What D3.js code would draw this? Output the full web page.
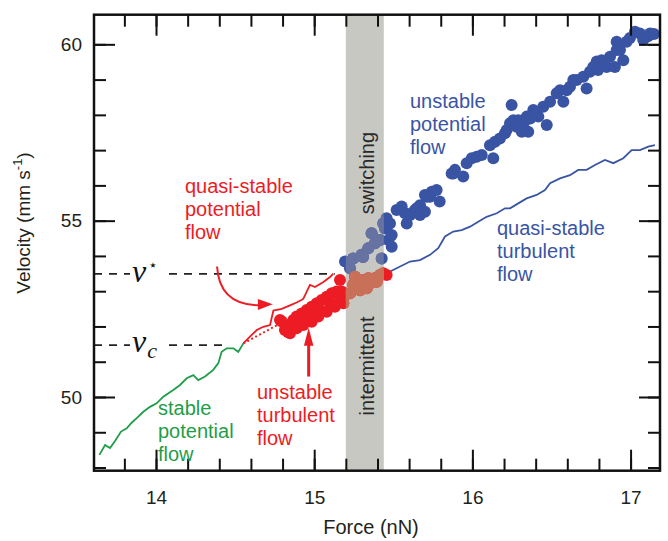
<!DOCTYPE html>
<meta charset="utf-8">
<title>Velocity vs force</title>
<style type="text/css">
	body { margin: 0; background: #fff; }
	text { font-family: "Liberation Sans", Arial, sans-serif; }
</style>
<body>
<div id="chart"></div>
<script src="https://d3js.org/d3.v7.min.js"></script>
<script>

// tick values
var xMajorTicks = [14, 15, 16, 17];
var xMinorTicks = [13.8, 14, 14.2, 14.4, 14.6, 14.8, 15, 15.2, 15.4, 15.6, 15.8, 16, 16.2, 16.4, 16.6, 16.8, 17];
var yMajorTicks = [50, 55, 60];
var yMinorTicks = [48, 49, 50, 51, 52, 53, 54, 55, 56, 57, 58, 59, 60];

// shaded switching / intermittent band (force, nN)
var bandForce = [15.20, 15.44];

// critical velocities
var vStar = 53.49;
var vC = 51.47;

// stable potential flow (green line)
var stableForce = [13.642,13.678,13.709,13.741,13.779,13.815,13.846,13.878,13.920,13.962,14.004,14.046,14.109,14.152,14.194,14.236,14.267,14.310,14.362,14.394,14.415,14.447,14.489,14.520,14.552];
var stableVel   = [48.36,48.64,48.55,48.75,49.02,49.11,49.27,49.40,49.58,49.72,49.82,50.01,50.20,50.34,50.53,50.62,50.48,50.58,50.77,50.96,51.28,51.38,51.38,51.28,51.52];

// quasi-stable potential flow (red line)
var qsPotForce = [14.552,14.594,14.637,14.678,14.721,14.742,14.795,14.847,14.889,14.931,14.973,15.005,15.058,15.100,15.121];
var qsPotVel   = [51.52,51.71,51.90,51.99,52.04,52.45,52.50,52.60,52.68,52.78,53.18,53.12,53.26,53.40,53.50];

// dotted extension towards the turbulent branch
var dottedForce = [14.552, 14.80];
var dottedVel   = [51.52, 52.12];

// quasi-stable turbulent flow (blue line)
var qsTurbForce = [15.458,15.521,15.606,15.669,15.732,15.784,15.827,15.879,15.932,15.985,16.037,16.090,16.154,16.206,16.238,16.290,16.343,16.406,16.459,16.491,16.554,16.617,16.669,16.722,16.775,16.838,16.891,16.954,17.007,17.059,17.112,17.154];
var qsTurbVel   = [53.51,53.65,53.84,53.88,54.03,54.22,54.55,54.69,54.73,54.83,54.97,55.11,55.21,55.35,55.35,55.49,55.63,55.73,55.87,56.06,56.20,56.29,56.44,56.44,56.58,56.72,56.63,56.77,57.00,57.00,57.10,57.14];

// unstable turbulent flow (red dots)
var redForce = [14.784,14.795,14.815,14.834,14.836,14.847,14.868,14.889,14.889,14.910,14.921,14.931,14.953,14.973,14.984,14.984,15.016,15.026,15.037,15.047,15.079,15.079,15.100,15.111,15.131,15.142,15.163,15.163,15.174,15.184,15.195,
	15.226,15.247,15.258,15.290,15.300,15.310,15.332,15.342,15.353,15.384,15.395,15.405,15.416,15.437,15.458];
var redVel   = [52.18,52.14,51.90,51.84,52.04,51.81,52.18,52.28,51.95,52.18,52.37,52.04,52.47,52.32,52.56,52.13,52.66,52.28,52.47,52.75,52.84,52.42,52.66,52.94,52.56,52.99,53.32,52.80,52.99,52.66,52.89,
	52.94,53.18,53.41,53.03,53.32,53.13,53.08,53.37,53.22,53.37,53.27,53.41,53.46,53.51,53.46];

// unstable potential flow (blue dots)
var blueForce = [15.195,15.226,15.247,15.300,15.309,15.342,15.363,15.384,15.416,15.427,15.437,15.448,15.458,15.470,15.479,15.490,15.490,
	15.521,15.553,15.574,15.585,15.606,15.616,15.637,15.648,15.669,15.669,15.700,15.700,15.711,15.732,15.743,15.774,15.793,
	15.869,15.880,15.890,15.942,15.964,15.996,16.027,16.059,16.132,16.111,16.143,16.174,16.206,16.217,16.238,16.259,16.248,16.280,16.290,16.312,16.326,16.353,16.343,16.366,16.385,16.404,16.417,16.448,16.470,
	16.491,16.533,16.554,16.575,16.596,16.617,16.638,16.659,16.701,16.722,16.743,16.764,16.786,16.794,16.817,16.832,16.849,16.870,16.901,16.912,16.912,16.933,16.954,16.975,16.996,17.028,17.059,17.080,17.110,17.123,17.148];
var blueVel   = [53.84,53.65,53.93,54.03,53.97,54.22,54.64,54.36,54.45,53.93,54.92,54.78,55.07,54.45,54.92,54.59,54.26,
	55.30,55.40,55.21,54.92,55.16,55.21,55.30,55.35,55.44,55.16,55.25,55.73,55.68,55.68,55.82,55.87,55.54,
	56.34,56.34,56.44,56.25,56.63,56.77,56.81,56.86,56.77,57.14,57.24,57.33,57.48,57.57,57.76,57.85,58.28,57.66,57.85,57.52,57.79,57.52,57.95,57.90,58.14,58.08,57.95,58.23,57.71,
	58.37,58.61,58.70,58.37,58.70,58.80,58.99,58.99,59.08,58.75,59.22,59.36,59.51,59.27,59.55,59.44,59.36,59.65,59.36,60.07,59.84,59.84,59.55,60.07,60.18,60.36,60.31,60.12,60.23,60.31,60.29];

var red = "#ed1c24", blue = "#3a54a4", green = "#1f9d48";
var bandFill = "#c8c8c3", redInBand = "#c87058", blueInBand = "#6672a2";

var margin = {top: 14.7, right: 8, bottom: 70.3, left: 94},
	width = 668 - margin.left - margin.right,
	height = 541 - margin.top - margin.bottom;

var x = d3.scaleLinear().domain([13.608, 17.186]).range([0, width]);
var y = d3.scaleLinear().domain([47.91, 60.84]).range([height, 0]);

var svg = d3.select("#chart").append("svg")
	.attr("width", 668)
	.attr("height", 541)
	.append("g")
	.attr("transform", "translate(" + margin.left + "," + margin.top + ")");

function zip(xs, ys) {
	return xs.map(function(d, i) { return {f: d, v: ys[i]}; });
}

// grey band
svg.append("rect")
	.attr("x", x(bandForce[0]))
	.attr("y", 0)
	.attr("width", x(bandForce[1]) - x(bandForce[0]))
	.attr("height", height)
	.style("fill", bandFill);

svg.append("clipPath").attr("id", "bandClip")
	.append("rect")
	.attr("x", x(bandForce[0]))
	.attr("y", 0)
	.attr("width", x(bandForce[1]) - x(bandForce[0]))
	.attr("height", height);

var line = d3.line()
	.x(function(d) { return x(d.f); })
	.y(function(d) { return y(d.v); });

// dashed critical velocity lines
svg.append("line")
	.attr("x1", 0).attr("x2", x(15.13))
	.attr("y1", y(vStar)).attr("y2", y(vStar))
	.style("stroke", "#222").style("stroke-width", 1.6).style("stroke-dasharray", "8,7");
svg.append("line")
	.attr("x1", 0).attr("x2", x(14.44))
	.attr("y1", y(vC)).attr("y2", y(vC))
	.style("stroke", "#222").style("stroke-width", 1.6).style("stroke-dasharray", "8,7");

// white patches behind the math labels
svg.append("rect").attr("x", 36).attr("y", y(vStar) - 16).attr("width", 33).attr("height", 28).style("fill", "#fff");
svg.append("rect").attr("x", 36).attr("y", y(vC) - 12).attr("width", 34).attr("height", 26).style("fill", "#fff");

// lines
svg.append("path").datum(zip(stableForce, stableVel))
	.attr("d", line).style("fill", "none").style("stroke", green).style("stroke-width", 1.8);
svg.append("path").datum(zip(qsPotForce, qsPotVel))
	.attr("d", line).style("fill", "none").style("stroke", red).style("stroke-width", 1.8);
svg.append("path").datum(zip(dottedForce, dottedVel))
	.attr("d", line).style("fill", "none").style("stroke", red).style("stroke-width", 2)
	.style("stroke-dasharray", "2,2.5");
svg.append("path").datum(zip(qsTurbForce, qsTurbVel))
	.attr("d", line).style("fill", "none").style("stroke", blue).style("stroke-width", 1.8);

// dots
var blueData = zip(blueForce, blueVel);
var redData = zip(redForce, redVel);
var r = 6;

function drawDots(g, data, fill) {
	g.selectAll("circle")
		.data(data)
		.enter().append("circle")
		.attr("cx", function(d) { return x(d.f); })
		.attr("cy", function(d) { return y(d.v); })
		.attr("r", r)
		.style("fill", fill);
}

drawDots(svg.append("g"), blueData, blue);
drawDots(svg.append("g"), redData, red);
// the same dots seen through the band
var inBand = svg.append("g").attr("clip-path", "url(#bandClip)");
drawDots(inBand.append("g"), blueData, blueInBand);
drawDots(inBand.append("g"), redData, redInBand);

// axes with inward ticks on all four sides
function styleAxis(g) {
	g.select(".domain").remove();
	g.selectAll(".tick line").style("stroke", "#111").style("stroke-width", 2);
	g.selectAll(".tick text").style("font-size", "19px").style("fill", "#231f20")
		.style("font-family", "'Liberation Sans', Arial, sans-serif");
}

svg.append("g").attr("transform", "translate(0," + height + ")")
	.call(d3.axisBottom(x).tickValues(xMinorTicks).tickSize(-12).tickFormat("")).call(styleAxis);
svg.append("g").attr("transform", "translate(0," + height + ")")
	.call(d3.axisBottom(x).tickValues(xMajorTicks).tickSize(-21).tickPadding(20).tickFormat(d3.format("d"))).call(styleAxis);
svg.append("g")
	.call(d3.axisTop(x).tickValues(xMinorTicks).tickSize(-12).tickFormat("")).call(styleAxis);
svg.append("g")
	.call(d3.axisTop(x).tickValues(xMajorTicks).tickSize(-21).tickFormat("")).call(styleAxis);

svg.append("g")
	.call(d3.axisLeft(y).tickValues(yMinorTicks).tickSize(-12).tickFormat("")).call(styleAxis);
svg.append("g")
	.call(d3.axisLeft(y).tickValues(yMajorTicks).tickSize(-21).tickPadding(12).tickFormat(d3.format("d"))).call(styleAxis);
svg.append("g").attr("transform", "translate(" + width + ",0)")
	.call(d3.axisRight(y).tickValues(yMinorTicks).tickSize(-12).tickFormat("")).call(styleAxis);
svg.append("g").attr("transform", "translate(" + width + ",0)")
	.call(d3.axisRight(y).tickValues(yMajorTicks).tickSize(-21).tickFormat("")).call(styleAxis);

// frame
svg.append("rect")
	.attr("width", width).attr("height", height)
	.style("fill", "none").style("stroke", "#111").style("stroke-width", 2.5);

// axis titles
svg.append("text")
	.attr("x", 371 - margin.left)
	.attr("y", height + 63)
	.style("text-anchor", "middle")
	.style("font-size", "20px").style("fill", "#231f20")
	.text("Force (nN)");

var yTitle = svg.append("text")
	.attr("transform", "translate(" + (-64) + "," + (223 - margin.top) + ") rotate(-90)")
	.style("text-anchor", "middle")
	.style("font-size", "19px").style("fill", "#231f20");
yTitle.append("tspan").text("Velocity (mm s");
yTitle.append("tspan").attr("dy", -8).style("font-size", "13px").text("-1");
yTitle.append("tspan").attr("dy", 8).text(")");

// band labels
svg.append("text")
	.attr("transform", "translate(" + (x(15.32) + 9) + "," + y(56.35) + ") rotate(-90)")
	.style("text-anchor", "middle").style("font-size", "20px").style("fill", "#2a2a2a")
	.text("switching");
svg.append("text")
	.attr("transform", "translate(" + (x(15.32) + 9) + "," + y(50.88) + ") rotate(-90)")
	.style("text-anchor", "middle").style("font-size", "20px").style("fill", "#2a2a2a")
	.text("intermittent");

// multi-line annotation helper
function label(lines, px, py, color) {
	var t = svg.append("text")
		.attr("x", px - margin.left).attr("y", py - margin.top)
		.style("font-size", "20px").style("fill", color);
	lines.forEach(function(s, i) {
		t.append("tspan").attr("x", px - margin.left).attr("dy", i === 0 ? 0 : 23).text(s);
	});
}

label(["quasi-stable", "potential", "flow"], 185, 193, red);
label(["unstable", "turbulent", "flow"], 257, 399, red);
label(["stable", "potential", "flow"], 158, 415, green);
label(["unstable", "potential", "flow"], 410, 108, blue);
label(["quasi-stable", "turbulent", "flow"], 497, 235, blue);

// math labels v* and v_c
var vs = svg.append("text")
	.attr("x", 38).attr("y", y(vStar) + 8)
	.style("font-family", "'Liberation Serif', 'DejaVu Serif', serif")
	.style("font-style", "italic").style("font-size", "32px").style("fill", "#111");
vs.append("tspan").text("v");
vs.append("tspan").attr("dy", -12).attr("dx", 2)
	.style("font-family", "'DejaVu Sans', sans-serif").style("font-style", "normal").style("font-size", "15px").text("\u22C6");

var vc = svg.append("text")
	.attr("x", 38).attr("y", y(vC) + 7)
	.style("font-family", "'Liberation Serif', 'DejaVu Serif', serif")
	.style("font-style", "italic").style("font-size", "32px").style("fill", "#111");
vc.append("tspan").text("v");
vc.append("tspan").attr("dy", 6).attr("dx", 1).style("font-size", "22px").text("c");

// curved arrow to the quasi-stable potential branch
var a0 = [x(14.386), y(53.70)], a1 = [x(14.646), y(52.60)], ac = [x(14.40), y(52.62)];
svg.append("path")
	.attr("d", "M" + a0 + "Q" + ac + " " + a1)
	.style("fill", "none").style("stroke", red).style("stroke-width", 2);
svg.append("path")
	.attr("d", "M" + [x(14.738), y(52.63)] + "L" + [x(14.644), y(52.78)] + "L" + [x(14.644), y(52.47)] + "Z")
	.style("fill", red);

// straight arrow to the unstable turbulent dots
svg.append("line")
	.attr("x1", x(14.965)).attr("x2", x(14.965))
	.attr("y1", y(50.58)).attr("y2", y(51.50))
	.style("stroke", red).style("stroke-width", 3);
svg.append("path")
	.attr("d", "M" + [x(14.965), y(51.96)] + "L" + [x(14.995), y(51.45)] + "L" + [x(14.935), y(51.45)] + "Z")
	.style("fill", red);

</script>
</body>
